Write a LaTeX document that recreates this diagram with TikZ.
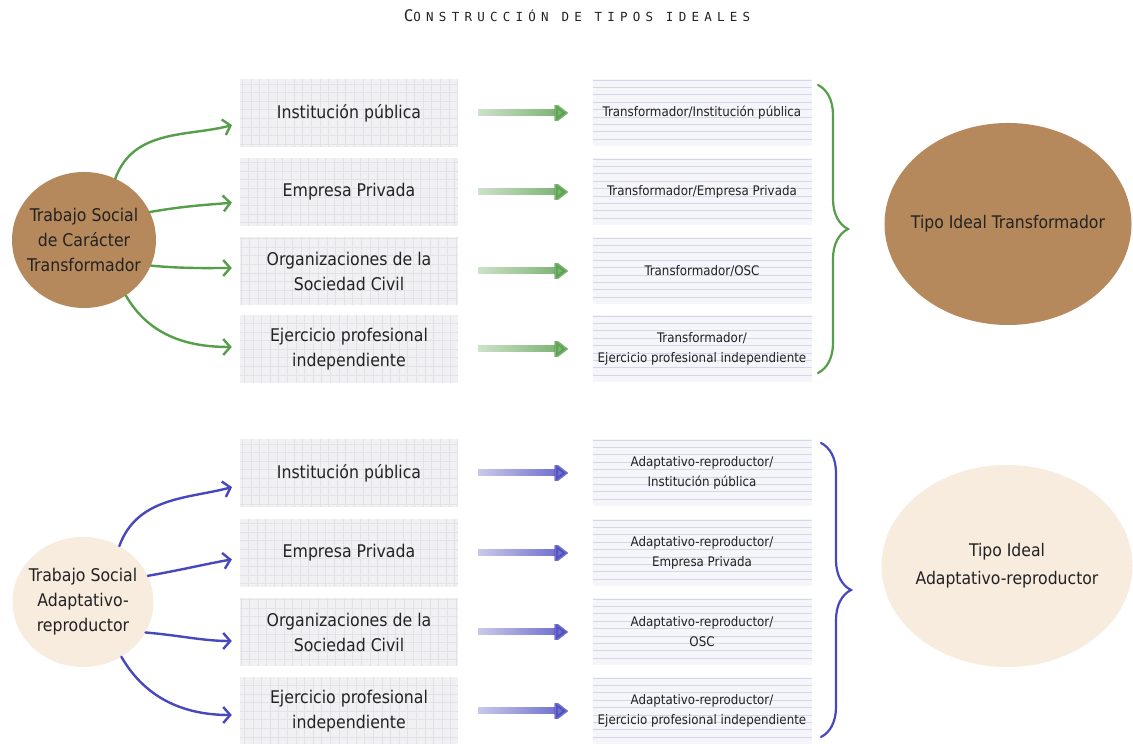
\documentclass[tikz,border=0pt]{standalone}
\usepackage{fontspec}
\setmainfont{DejaVu Sans Condensed}
\newfontfamily\titlefont[LetterSpace=42]{DejaVu Sans Mono}
\usetikzlibrary{arrows.meta,shapes.geometric,decorations.pathreplacing,fadings}

\definecolor{kraft}{RGB}{182,137,92}
\definecolor{cream}{RGB}{247,236,222}
\definecolor{gcol}{RGB}{86,158,74}
\definecolor{bcol}{RGB}{72,72,190}
\definecolor{gridfill}{RGB}{241,241,243}
\definecolor{gridcol}{RGB}{226,226,231}
\definecolor{linefill}{RGB}{245,245,250}
\definecolor{linecol}{RGB}{210,215,234}
\definecolor{inkcol}{RGB}{34,34,34}

\tikzfading[name=tailfade, left color=transparent!85, middle color=transparent!0, right color=transparent!0]

\tikzset{
  gridbox/.style={minimum width=218pt, minimum height=68pt, fill=gridfill, text=inkcol, align=center,
    font=\fontsize{17.5}{25}\selectfont,
    path picture={\draw[gridcol,line width=0.5pt,step=8.6pt] (path picture bounding box.south west) grid (path picture bounding box.north east);}},
  linebox/.style={minimum width=219pt, minimum height=67pt, inner xsep=0pt, fill=linefill, text=inkcol, align=center,
    font=\fontsize{13.2}{20}\selectfont,
    path picture={\foreach \k in {1,...,9} \draw[linecol,line width=0.6pt] ([yshift=\k*7.4pt]path picture bounding box.south west) -- ([yshift=\k*7.4pt]path picture bounding box.south east);}},
  blob/.style={ellipse, inner sep=-30pt, text=inkcol, align=center},
  arc/.style={line width=2.4pt, line cap=round, -{Straight Barb[length=7pt,width=16pt]}, shorten >=8pt},
  bigarrow/.style={line width=7pt, -{Triangle[length=14pt,width=21pt]}, shorten <=20pt, shorten >=24pt, path fading=tailfade},
  bracket/.style={line width=2.2pt, line cap=round, decorate, decoration={brace, amplitude=30pt}}
}

\begin{document}
\begin{tikzpicture}[x=1pt,y=1pt]
  \useasboundingbox[fill=white] (0,0) rectangle (1133,744);
  \node[text=inkcol] (title) at (577,728) {\titlefont{\fontsize{16}{18}\selectfont C}{\fontsize{12.5}{14}\selectfont ONSTRUCCIÓN DE TIPOS IDEALES}};
%%%
  \node[blob, fill=kraft, minimum width=144pt, minimum height=136pt, font=\fontsize{17.5}{25}\selectfont] (tst) at (84,504) {Trabajo Social\\de Carácter\\Transformador};
  \node[blob, fill=cream, minimum width=141pt, minimum height=130pt, font=\fontsize{17.5}{25}\selectfont] (tsa) at (83,142) {Trabajo Social\\Adaptativo-\\reproductor};
%%%
  \node[gridbox] (tp1) at (349,631) {Institución pública};
  \node[gridbox] (tp2) at (349,552) {Empresa Privada};
  \node[gridbox] (tp3) at (349,473) {Organizaciones de la\\Sociedad Civil};
  \node[gridbox] (tp4) at (349,395) {Ejercicio profesional\\independiente};
  \node[gridbox] (ap1) at (349,271) {Institución pública};
  \node[gridbox] (ap2) at (349,191) {Empresa Privada};
  \node[gridbox] (ap3) at (349,112) {Organizaciones de la\\Sociedad Civil};
  \node[gridbox] (ap4) at (349,33) {Ejercicio profesional\\independiente};
%%%
  \node[linebox] (tt1) at (702,631) {Transformador/Institución pública};
  \node[linebox] (tt2) at (702,552) {Transformador/Empresa Privada};
  \node[linebox] (tt3) at (702,473) {Transformador/OSC};
  \node[linebox] (tt4) at (702,395) {Transformador/\\Ejercicio profesional independiente};
  \node[linebox] (at1) at (702,271) {Adaptativo-reproductor/\\Institución pública};
  \node[linebox] (at2) at (702,191) {Adaptativo-reproductor/\\Empresa Privada};
  \node[linebox] (at3) at (702,112) {Adaptativo-reproductor/\\OSC};
  \node[linebox] (at4) at (702,33) {Adaptativo-reproductor/\\Ejercicio profesional independiente};
%%%
  \node[blob, fill=kraft, minimum width=247pt, minimum height=202pt, font=\fontsize{17.4}{28}\selectfont] (idealT) at (1008,520) {Tipo Ideal Transformador};
  \node[blob, fill=cream, minimum width=251pt, minimum height=202pt, font=\fontsize{17.4}{28}\selectfont] (idealA) at (1007,178) {Tipo Ideal\\Adaptativo-reproductor};
%%%
  \draw[arc, gcol] (tst.63) to[out=70,in=195] ([yshift=-10pt]tp1.west);
  \draw[arc, gcol] (tst.23) to[out=10,in=185] ([yshift=-10pt]tp2.west);
  \draw[arc, gcol] (tst.-21) to[out=-5,in=180] ([yshift=3pt]tp3.west);
  \draw[arc, gcol] (tst.-53) to[out=-60,in=180] ([yshift=2pt]tp4.west);
%%%
  \draw[arc, bcol] (tsa.57) to[out=70,in=195] ([yshift=-12pt]ap1.west);
  \draw[arc, bcol] (tsa.22) to[out=10,in=190] ([yshift=-5pt]ap2.west);
  \draw[arc, bcol] (tsa.-26) to[out=-5,in=180] ([yshift=-9pt]ap3.west);
  \draw[arc, bcol] (tsa.-55) to[out=-60,in=180] ([yshift=-4pt]ap4.west);
%%%
  \draw[bigarrow, gcol] (tp1.east) -- (tt1.west);
  \draw[bigarrow, gcol] (tp2.east) -- (tt2.west);
  \draw[bigarrow, gcol] (tp3.east) -- (tt3.west);
  \draw[bigarrow, gcol] (tp4.east) -- (tt4.west);
  \draw[bigarrow, bcol] (ap1.east) -- (at1.west);
  \draw[bigarrow, bcol] (ap2.east) -- (at2.west);
  \draw[bigarrow, bcol] (ap3.east) -- (at3.west);
  \draw[bigarrow, bcol] (ap4.east) -- (at4.west);
%%%
  \draw[bracket, gcol] (818,659) -- (818,371);
  \draw[bracket, bcol] (821,301) -- (821,7);
%%%
\end{tikzpicture}
\end{document}
